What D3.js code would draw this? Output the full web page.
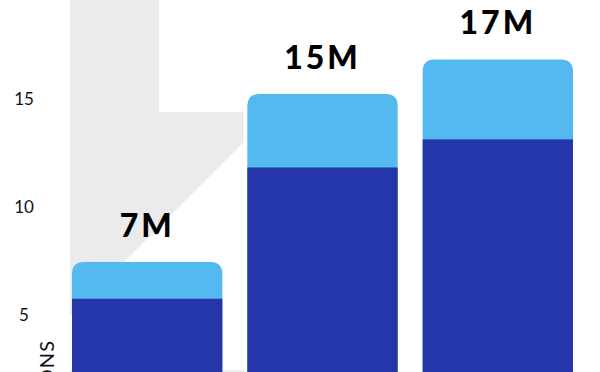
<!DOCTYPE html>
<html>
<head>
<meta charset="utf-8">
<script src="https://cdn.jsdelivr.net/npm/d3@7"></script>
<style>
  html, body { margin: 0; padding: 0; background: #fff; }
  svg { display: block; }
</style>
</head>
<body>
<svg id="chart" width="600" height="372"></svg>
<script>
// ---- data ----
const categories = ["Year 1", "Year 2", "Year 3"];
const baseValues = [5.73, 11.8, 13.1];     // dark blue segment (millions)
const topValues  = [1.7, 3.4, 3.7];        // light blue segment (millions)
const totalLabels = ["7M", "15M", "17M"];
const yTicks = [5, 10, 15];
const yAxisTitle = "MILLIONS";

// ---- layout ----
const W = 600, H = 372;
const svg = d3.select("#chart");

const x = d3.scaleBand().domain(categories).range([72, 573]).paddingInner(0.1425).paddingOuter(0);
const y = d3.scaleLinear().domain([0, 20]).range([422.6, -9.8]);

const colDark = "#2436AA", colLight = "#54B9EE", colGray = "#EBEBEB";

// background decorative arrow shape
svg.append("path")
  .attr("d", "M70,0 L159,0 L159,112 L244,112 L244,142 L70,316 Z")
  .attr("fill", colGray);
svg.append("rect").attr("x", 70).attr("y", 370).attr("width", 174).attr("height", 4).attr("fill", colGray);

// y axis tick labels
const axis = d3.axisLeft(y).tickValues(yTicks).tickSize(0).tickPadding(0);
const gAxis = svg.append("g").attr("transform", "translate(24,0)").call(axis);
gAxis.select(".domain").remove();
gAxis.selectAll("text")
  .attr("text-anchor", "middle")
  .attr("dy", "0.36em")
  .style("font-family", "Lato, 'Open Sans', sans-serif")
  .style("font-size", "17px")
  .attr("fill", "#111");

// y axis title (rotated)
svg.append("text")
  .attr("transform", "translate(54,340) rotate(-90)")
  .attr("text-anchor", "end")
  .style("font-family", "Lato, 'Open Sans', sans-serif")
  .style("font-size", "20px")
  .style("letter-spacing", "1px")
  .attr("fill", "#111")
  .text(yAxisTitle);

const r = 12;
function roundedTop(x0, w, yTop, yBot) {
  return `M${x0},${yBot} L${x0},${yTop + r} Q${x0},${yTop} ${x0 + r},${yTop} ` +
         `L${x0 + w - r},${yTop} Q${x0 + w},${yTop} ${x0 + w},${yTop + r} L${x0 + w},${yBot} Z`;
}

const data = categories.map((c, i) => ({ c, base: baseValues[i], top: topValues[i], label: totalLabels[i] }));

const bars = svg.append("g").selectAll("g").data(data).join("g");
bars.append("path")
  .attr("d", d => roundedTop(x(d.c), x.bandwidth(), y(d.base + d.top), y(0)))
  .attr("fill", colLight);
bars.append("rect")
  .attr("x", d => x(d.c))
  .attr("width", x.bandwidth())
  .attr("y", d => y(d.base))
  .attr("height", d => y(0) - y(d.base))
  .attr("fill", colDark);
bars.append("text")
  .attr("x", d => x(d.c) + x.bandwidth() / 2)
  .attr("y", d => y(d.base + d.top) - 25)
  .attr("text-anchor", "middle")
  .style("font-family", "Lato, sans-serif")
  .style("font-weight", "900")
  .style("font-size", "32px")
  .style("letter-spacing", "3px")
  .attr("fill", "#000")
  .text(d => d.label);
</script>
</body>
</html>
